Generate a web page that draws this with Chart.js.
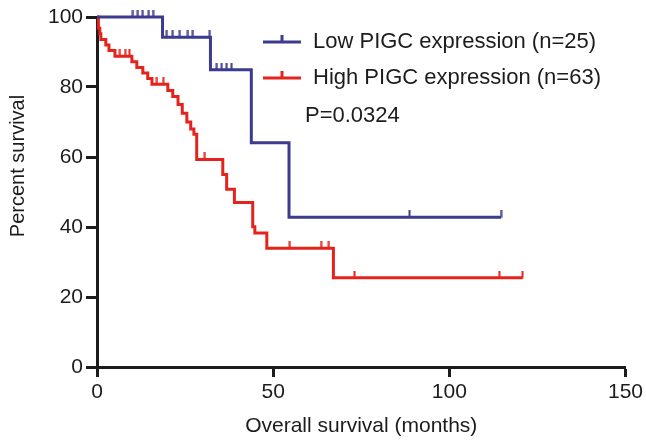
<!DOCTYPE html>
<html lang="en">
  <head>
    <meta charset="UTF-8" />
    <title>PIGC survival</title>
    <style>
      body {
        margin: 0;
        background: #fff;
      }
      #wrap {
        width: 646px;
        height: 447px;
      }
    </style>
  </head>
  <body>
    <div id="wrap"><canvas id="km" width="646" height="447"></canvas></div>

    <script src="https://cdn.jsdelivr.net/npm/chart.js"></script>
    <script>
      const xTicks = [0, 50, 100, 150];
      const yTicks = [0, 20, 40, 60, 80, 100];

      // Low PIGC expression (n=25): drop times and survival after each drop
      const lowTimes = [0, 18.6, 32.2, 43.8, 54.5, 114.7];
      const lowSurv = [100, 94.2, 84.9, 64.1, 42.8, 42.8];
      const lowCensor = [10.2, 11.6, 13.0, 14.7, 15.9, 19.8, 21.5, 23.5, 25.8, 27.2, 32.0, 34.0, 35.4, 36.8, 38.2, 88.7, 114.7];

      // High PIGC expression (n=63)
      const highTimes = [0, 0.4, 0.8, 1.1, 2.5, 3.4, 5.1, 9.9, 11.3, 13.0, 14.4, 15.6, 20.1, 21.5, 23.0, 24.2, 25.5, 26.6, 27.5, 28.3, 35.7, 36.8, 39.0, 44.2, 44.8, 48.2, 67.1, 120.8];
      const highSurv = [100, 96.8, 95.2, 93.6, 92.0, 90.4, 88.8, 87.2, 85.6, 84.0, 82.4, 80.8, 79.0, 77.3, 75.0, 72.5, 70.0, 68.0, 66.5, 59.3, 55.0, 50.8, 47.0, 40.1, 38.3, 33.9, 25.5, 25.5];
      const highCensor = [6.5, 8.0, 9.2, 17.0, 18.8, 30.6, 54.7, 63.6, 65.8, 73.1, 114.2, 120.8];

      const pValue = "P=0.0324";
      const yTitle = "Percent survival";
      const blue = "#3d3b8e";
      const red = "#e5231d";
      const ink = "#1e1b1c";
      const family = "'Liberation Sans', Arial, sans-serif";

      function levelAt(times, surv, t) {
        let v = surv[0];
        for (let i = 0; i < times.length; i++) {
          if (times[i] <= t) v = surv[i];
        }
        return v;
      }

      const toPoints = (times, surv) => times.map((t, i) => ({ x: t, y: surv[i] }));
      const censorPoints = (times, surv, cens) => cens.map((t) => ({ x: t, y: levelAt(times, surv, t) }));

      // small upward tick used as censor mark
      function tickMark(color) {
        const c = document.createElement("canvas");
        c.width = 3;
        c.height = 14;
        const g = c.getContext("2d");
        g.strokeStyle = color;
        g.lineWidth = 2;
        g.beginPath();
        g.moveTo(1.5, 0);
        g.lineTo(1.5, 7.5);
        g.stroke();
        return c;
      }

      const legendItems = [
        { label: "Low PIGC expression (n=25)", color: blue, y: 42 },
        { label: "High PIGC expression (n=63)", color: red, y: 78 },
      ];

      const kmLegend = {
        id: "kmLegend",
        afterDraw(chart) {
          const ctx = chart.ctx;
          ctx.save();
          ctx.font = "22px " + family;
          ctx.textBaseline = "middle";
          legendItems.forEach((it) => {
            ctx.strokeStyle = it.color;
            ctx.lineWidth = 3;
            ctx.beginPath();
            ctx.moveTo(263, it.y);
            ctx.lineTo(301, it.y);
            ctx.moveTo(282, it.y);
            ctx.lineTo(282, it.y - 7);
            ctx.stroke();
            ctx.fillStyle = ink;
            ctx.fillText(it.label, 313, it.y);
          });
          ctx.fillText(pValue, 305, 116);

          // y axis title
          ctx.font = "20px " + family;
          ctx.textAlign = "center";
          ctx.translate(18, 166);
          ctx.rotate(-Math.PI / 2);
          ctx.fillText(yTitle, 0, 0);
          ctx.restore();
        },
      };

      const axisFont = { family: family, size: 21 };

      new Chart(document.getElementById("km"), {
        type: "line",
        data: {
          datasets: [
            {
              data: toPoints(lowTimes, lowSurv),
              borderColor: blue,
              borderWidth: 3,
              stepped: true,
              pointRadius: 0,
              clip: false,
            },
            {
              data: toPoints(highTimes, highSurv),
              borderColor: red,
              borderWidth: 3,
              stepped: true,
              pointRadius: 0,
              clip: false,
            },
            {
              data: censorPoints(lowTimes, lowSurv, lowCensor),
              showLine: false,
              pointStyle: tickMark(blue),
              clip: false,
            },
            {
              data: censorPoints(highTimes, highSurv, highCensor),
              showLine: false,
              pointStyle: tickMark(red),
              clip: false,
            },
          ],
        },
        options: {
          responsive: false,
          animation: false,
          layout: { padding: { left: 0, right: 20, top: 17, bottom: 0 } },
          plugins: { legend: { display: false }, tooltip: { enabled: false } },
          scales: {
            x: {
              type: "linear",
              min: 0,
              max: 150,
              afterBuildTicks: (s) => (s.ticks = xTicks.map((v) => ({ value: v }))),
              afterFit: (s) => (s.height = 80),
              grid: { drawOnChartArea: false, tickLength: 10, tickColor: ink, tickWidth: 3 },
              border: { color: ink, width: 3 },
              ticks: { color: ink, font: axisFont, padding: 3, maxRotation: 0 },
              title: {
                display: true,
                text: "Overall survival (months)",
                color: ink,
                font: { ...axisFont, lineHeight: "34px" },
              },
            },
            y: {
              min: 0,
              max: 100,
              afterBuildTicks: (s) => (s.ticks = yTicks.map((v) => ({ value: v }))),
              afterFit: (s) => (s.width = 97),
              grid: { drawOnChartArea: false, tickLength: 11, tickColor: ink, tickWidth: 3 },
              border: { color: ink, width: 3 },
              ticks: { color: ink, font: axisFont, padding: 3 },
            },
          },
        },
        plugins: [kmLegend],
      });
    </script>
  </body>
</html>
